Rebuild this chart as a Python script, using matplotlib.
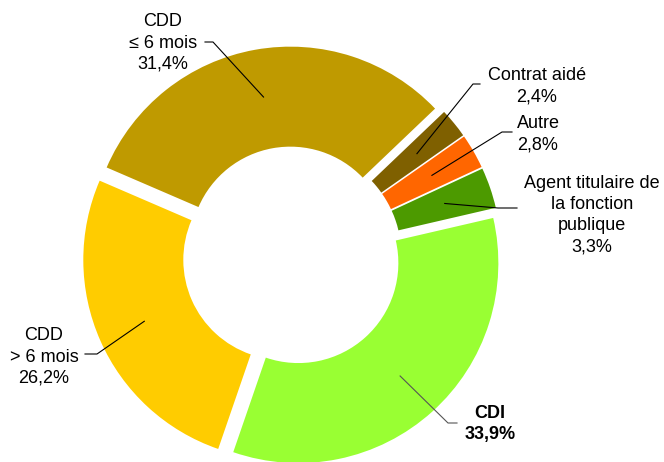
import numpy as np
import matplotlib
matplotlib.use('Agg')
import matplotlib.pyplot as plt

# contract types, counter-clockwise starting from CDI
labels = ['CDI', 'Agent titulaire de\nla fonction\npublique', 'Autre',
          'Contrat aidé', 'CDD\n≤ 6 mois', 'CDD\n> 6 mois']
values = [33.9, 3.3, 2.8, 2.4, 31.4, 26.2]
colors = ['#99FF33', '#4C9A00', '#FF6600', '#7F6000', '#BF9A00', '#FFCC00']

# label centre, elbow point, text-side end of the leader line (pixels, y down)
label_pos = [(490, 424), (592, 215), (538, 86 + 48), (537, 86), (163, 43), (44, 357)]
elbows = [(448, 423), (498, 208), (502, 132), (473, 84), (213, 42), (97, 354)]
text_ends = [(457, 423), (517, 208), (512, 132), (480, 84), (205, 42), (85, 354)]

W, H = 664, 462
fig = plt.figure(figsize=(W / 100, H / 100), dpi=100)
ax = fig.add_axes([0, 0, 1, 1])

wedges, _ = ax.pie(values, colors=colors, startangle=-109, counterclock=True,
                   radius=200, center=(292, H - 256), explode=[9.5] * len(values),
                   wedgeprops=dict(width=100, linewidth=0))
ax.set_xlim(0, W)
ax.set_ylim(0, H)
ax.axis('off')

for i, w in enumerate(wedges):
    mid = np.deg2rad((w.theta1 + w.theta2) / 2)
    cx, cy = w.center
    tip = (cx + 152 * np.cos(mid), cy + 152 * np.sin(mid))
    ex, ey = elbows[i]
    tx, ty = text_ends[i]
    lc = '#555555' if i == 0 else 'black'
    ax.plot([tip[0], ex, tx], [tip[1], H - ey, H - ty], color=lc, lw=0.8)

    txt = labels[i] + '\n' + ('%.1f%%' % values[i]).replace('.', ',')
    lx, ly = label_pos[i]
    ax.text(lx, H - ly, txt, ha='center', va='center', fontsize=13,
            family='Liberation Sans', linespacing=1.33,
            fontweight='bold' if i == 0 else 'normal')

fig.savefig('out.png', dpi=100)
